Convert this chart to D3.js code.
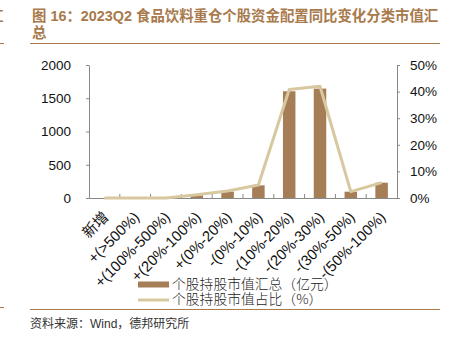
<!DOCTYPE html>
<html><head><meta charset="utf-8">
<script src="https://cdn.jsdelivr.net/npm/d3@7"></script>
<style>body{margin:0;background:#fff;}svg{display:block;}</style>
</head><body>
<script>
const categories = ["新增","+(>500%)","+(100%-500%)","+(20%-100%)","+(0%-20%)","-(0%-10%)","-(10%-20%)","-(20%-30%)","-(30%-50%)","-(50%-100%)"];
const barValues = [0, 0, 0, 40, 95, 190, 1605, 1645, 95, 230];
const lineValues = [0, 0, 0, 1.2, 2.6, 4.9, 40.8, 42.0, 2.4, 5.8];
const leftTicks = [0, 500, 1000, 1500, 2000];
const rightTicks = [0, 10, 20, 30, 40, 50];
const legendLabels = ["个股持股市值汇总（亿元）", "个股持股市值占比（%）"];
const titleLines = ["图 16：2023Q2 食品饮料重仓个股资金配置同比变化分类市值汇", "总"];
const sourceText = "资料来源：Wind，德邦研究所";

const W = 450, H = 339;
const brown = "#a57e57", beige = "#d8c8a0", titleColor = "#a87a4c";
const svg = d3.select("body").append("svg").attr("width", W).attr("height", H);
const font = "Arial, 'Liberation Sans', 'Noto Sans CJK SC', sans-serif";

// title
svg.selectAll("text.title").data(titleLines).enter().append("text")
  .attr("x", 32).attr("y", (d, i) => 21 + i * 17)
  .attr("fill", titleColor).attr("font-weight", "bold").attr("font-size", 14.4)
  .attr("font-family", font).text(d => d);
// left cropped fragment of neighbouring page
svg.append("text").attr("x", -10).attr("y", 21).attr("fill", titleColor).attr("font-size", 13.5)
  .attr("font-family", font).attr("font-weight","bold").text("汇");
svg.append("line").attr("x1", 0).attr("x2", 4).attr("y1", 43.5).attr("y2", 43.5).attr("stroke", titleColor).attr("stroke-width", 1);
svg.append("line").attr("x1", 30).attr("x2", 440).attr("y1", 43.5).attr("y2", 43.5).attr("stroke", titleColor).attr("stroke-width", 1);

const x = d3.scaleBand().domain(categories).range([89, 397]).paddingInner(0).paddingOuter(0);
const yL = d3.scaleLinear().domain([0, 2000]).range([198, 65]);
const yR = d3.scaleLinear().domain([0, 50]).range([198, 65]);

// bars
const bw = 12.5;
svg.selectAll("rect.bar").data(categories).enter().append("rect")
  .attr("x", (d) => x(d) + x.bandwidth() / 2 - bw / 2)
  .attr("width", bw)
  .attr("y", (d, i) => yL(barValues[i]))
  .attr("height", (d, i) => yL(0) - yL(barValues[i]))
  .attr("fill", brown);

// axes
const axisColor = "#888";
const gL = svg.append("g").attr("transform", "translate(89,0)")
  .call(d3.axisLeft(yL).tickValues(leftTicks).tickSize(3).tickSizeOuter(0).tickFormat(d3.format("d")));
const gR = svg.append("g").attr("transform", "translate(397,0)")
  .call(d3.axisRight(yR).tickValues(rightTicks).tickSize(3).tickSizeOuter(0).tickFormat(d => d + "%"));
const gB = svg.append("g").attr("transform", "translate(0,198)")
  .call(d3.axisBottom(x).tickSize(0).tickSizeOuter(0).tickFormat(""));
[gL, gR, gB].forEach(g => {
  g.select(".domain").attr("stroke", axisColor);
  g.selectAll(".tick line").attr("stroke", axisColor);
  g.selectAll("text").attr("fill", "#111").attr("font-size", 13.5).attr("font-family", font);
});
gL.selectAll("text").attr("dx", "-12");
gR.selectAll("text").attr("dx", "7");
// category boundary ticks (inward, upward)
const bounds = categories.slice(1).map(c => x(c));
svg.selectAll("line.bt").data(bounds).enter().append("line")
  .attr("x1", d => d).attr("x2", d => d).attr("y1", 198).attr("y2", 194)
  .attr("stroke", axisColor);

// x labels
svg.selectAll("text.xl").data(categories).enter().append("text")
  .attr("transform", d => `translate(${x(d) + x.bandwidth() / 2 + 5},${218}) rotate(-45)`)
  .attr("text-anchor", "end").attr("font-size", 14.8).attr("font-family", font).attr("fill", "#111")
  .text(d => d);

// line
const line = d3.line().x((d, i) => x(categories[i]) + x.bandwidth() / 2).y(d => yR(d));
svg.append("path").datum(lineValues).attr("d", line)
  .attr("fill", "none").attr("stroke", beige).attr("stroke-width", 3).attr("stroke-linejoin", "round");

// legend
const lg = svg.append("g");
lg.append("rect").attr("x", 138).attr("y", 281.5).attr("width", 31).attr("height", 6).attr("fill", brown);
lg.append("line").attr("x1", 138).attr("x2", 169).attr("y1", 300).attr("y2", 300).attr("stroke", beige).attr("stroke-width", 3);
lg.selectAll("text").data(legendLabels).enter().append("text")
  .attr("x", 172).attr("y", (d, i) => 289 + i * 15).attr("font-size", 13.8)
  .attr("font-family", "'Noto Sans CJK SC', sans-serif").attr("font-weight", 300).attr("fill", "#222").text(d => d);

// bottom rule & source
svg.append("line").attr("x1", 0).attr("x2", 4).attr("y1", 307.5).attr("y2", 307.5).attr("stroke", titleColor);
svg.append("line").attr("x1", 30).attr("x2", 440).attr("y1", 309.5).attr("y2", 309.5).attr("stroke", titleColor);
svg.append("text").attr("x", 30).attr("y", 328).attr("font-size", 12).attr("font-family", font)
  .attr("fill", "#333").text(sourceText);
</script>
</body></html>
